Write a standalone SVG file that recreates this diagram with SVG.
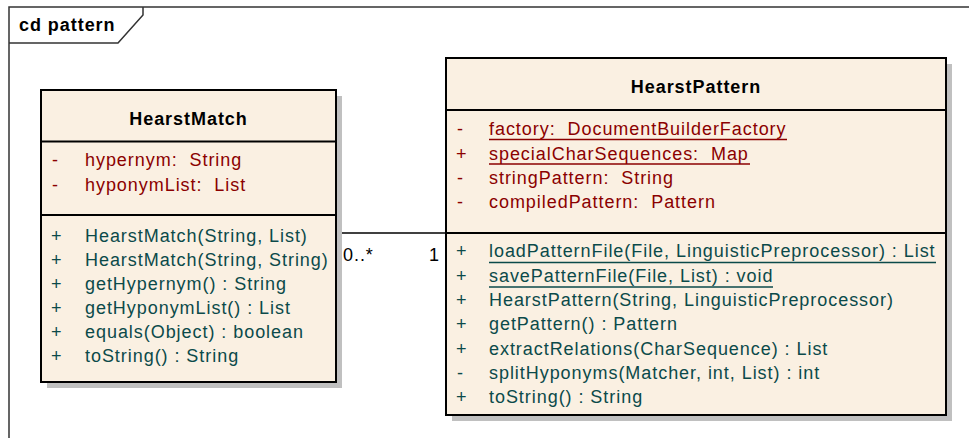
<svg xmlns="http://www.w3.org/2000/svg" width="969" height="438" viewBox="0 0 969 438">
  <style>
    text { font-family: "Liberation Sans", Arial, sans-serif; font-size: 18px; letter-spacing: 0.95px; white-space: pre; }
    .title { font-weight: bold; fill: #000; text-anchor: middle; }
    .frame-title { font-weight: bold; fill: #000; }
    .attr { fill: #8b0000; }
    .op { fill: #0b4a4a; }
    .mult { fill: #000; }
    .box { fill: #faf0e2; stroke: #000; stroke-width: 2; }
    .shadow { fill: #c0c0c0; }
    .sep { stroke: #000; stroke-width: 2; }
    .ul-attr { stroke: #8b0000; stroke-width: 1.5; }
    .ul-op { stroke: #0b4a4a; stroke-width: 1.5; }
    .frame { fill: none; stroke: #333; stroke-width: 1.5; }
    .edge { stroke: #000; stroke-width: 1.5; fill: none; }
  </style>

  <rect width="969" height="438" fill="#fff"/>

  <!-- diagram frame with name tab -->
  <g id="frame">
    <path class="frame" d="M9,438 V7 H975"/>
    <path class="frame" d="M9,43 H118 L143,15 V7"/>
    <text class="frame-title" x="19" y="31">cd pattern</text>
  </g>

  <!-- association -->
  <g id="connectors">
    <line class="edge" x1="336" y1="233" x2="446" y2="233"/>
    <text class="mult" x="343" y="261">0..*</text>
    <text class="mult" x="429" y="261">1</text>
  </g>

  <!-- class HearstMatch -->
  <g id="HearstMatch">
    <rect class="shadow" x="47" y="96" width="295" height="292"/>
    <rect class="box" x="41" y="90" width="295" height="292"/>
    <line class="sep" x1="41" y1="141.5" x2="336" y2="141.5"/>
    <line class="sep" x1="41" y1="215" x2="336" y2="215"/>
    <text class="title" x="188.5" y="125">HearstMatch</text>
    <text class="attr" x="52" y="166">-</text><text class="attr" x="85" y="166" xml:space="preserve">hypernym:  String</text>
    <text class="attr" x="52" y="191">-</text><text class="attr" x="85" y="191" xml:space="preserve">hyponymList:  List</text>
    <text class="op" x="51" y="242">+</text><text class="op" x="85" y="242">HearstMatch(String, List)</text>
    <text class="op" x="51" y="266">+</text><text class="op" x="85" y="266">HearstMatch(String, String)</text>
    <text class="op" x="51" y="290">+</text><text class="op" x="85" y="290">getHypernym() : String</text>
    <text class="op" x="51" y="314">+</text><text class="op" x="85" y="314">getHyponymList() : List</text>
    <text class="op" x="51" y="338">+</text><text class="op" x="85" y="338">equals(Object) : boolean</text>
    <text class="op" x="51" y="362">+</text><text class="op" x="85" y="362">toString() : String</text>
  </g>

  <!-- class HearstPattern -->
  <g id="HearstPattern">
    <rect class="shadow" x="452" y="64" width="500" height="357"/>
    <rect class="box" x="446" y="58" width="500" height="357"/>
    <line class="sep" x1="446" y1="110" x2="946" y2="110"/>
    <line class="sep" x1="446" y1="233" x2="946" y2="233"/>
    <text class="title" x="696" y="93">HearstPattern</text>
    <text class="attr" x="457" y="135">-</text><text class="attr" x="489" y="135" xml:space="preserve">factory:  DocumentBuilderFactory</text>
    <line class="ul-attr" x1="489" y1="139.5" x2="787" y2="139.5"/>
    <text class="attr" x="456" y="160">+</text><text class="attr" x="489" y="160" xml:space="preserve">specialCharSequences:  Map</text>
    <line class="ul-attr" x1="489" y1="164" x2="750" y2="164"/>
    <text class="attr" x="457" y="184">-</text><text class="attr" x="489" y="184" xml:space="preserve">stringPattern:  String</text>
    <text class="attr" x="457" y="208">-</text><text class="attr" x="489" y="208" xml:space="preserve">compiledPattern:  Pattern</text>

    <text class="op" x="456" y="257">+</text><text class="op" x="489" y="257">loadPatternFile(File, LinguisticPreprocessor) : List</text>
    <line class="ul-op" x1="489" y1="262.5" x2="936" y2="262.5"/>
    <text class="op" x="456" y="282">+</text><text class="op" x="489" y="282">savePatternFile(File, List) : void</text>
    <line class="ul-op" x1="489" y1="287" x2="773" y2="287"/>
    <text class="op" x="456" y="306">+</text><text class="op" x="489" y="306">HearstPattern(String, LinguisticPreprocessor)</text>
    <text class="op" x="456" y="330">+</text><text class="op" x="489" y="330">getPattern() : Pattern</text>
    <text class="op" x="456" y="354.5">+</text><text class="op" x="489" y="354.5">extractRelations(CharSequence) : List</text>
    <text class="op" x="457" y="378.5">-</text><text class="op" x="489" y="378.5">splitHyponyms(Matcher, int, List) : int</text>
    <text class="op" x="456" y="403">+</text><text class="op" x="489" y="403">toString() : String</text>
  </g>
</svg>
